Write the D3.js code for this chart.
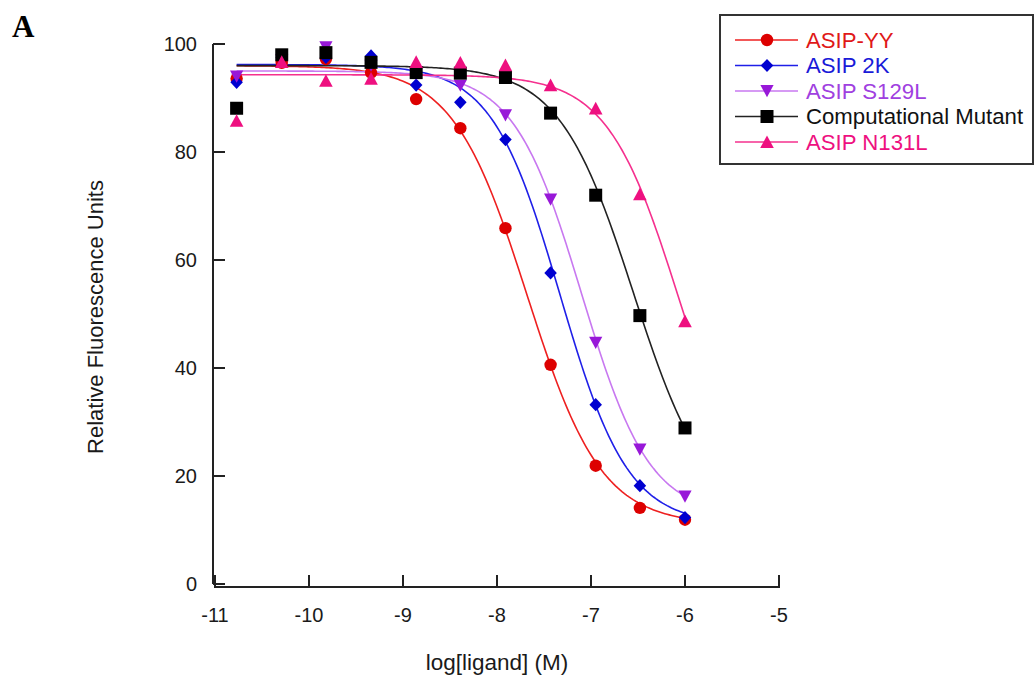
<!DOCTYPE html>
<html>
<head>
<meta charset="utf-8">
<script src="https://cdn.jsdelivr.net/npm/d3@7"></script>
<style>
  html, body { margin: 0; padding: 0; background: #fff; }
  svg { display: block; }
  .sans { font-family: "Liberation Sans", Arial, sans-serif; }
  .serif { font-family: "Liberation Serif", "Times New Roman", serif; }
</style>
</head>
<body>
<svg id="chart" width="1034" height="677"></svg>
<script>
// Concentration-response of the ASIP variants (log molar ligand vs RFU)
const logConc = [-10.77, -10.29, -9.82, -9.34, -8.86, -8.39, -7.91, -7.43, -6.95, -6.48, -6.00];

const seriesNames = ["ASIP-YY", "ASIP 2K", "ASIP S129L", "Computational Mutant", "ASIP N131L"];

const asipYY      = [93.6, 96.5, 97.2, 94.7, 89.8, 84.4, 65.9, 40.6, 21.9, 14.1, 11.9];
const asip2K      = [92.9, 97.5, 97.5, 97.8, 92.4, 89.2, 82.3, 57.6, 33.2, 18.2, 12.3];
const asipS129L   = [94.0, 97.0, 99.4, 96.0, 94.5, 92.3, 86.8, 71.2, 44.7, 24.9, 16.2];
const compMutant  = [88.1, 98.0, 98.4, 96.6, 94.7, 94.6, 93.8, 87.2, 72.0, 49.7, 28.9];
const asipN131L   = [85.8, 96.7, 93.2, 93.6, 96.7, 96.6, 96.1, 92.4, 88.1, 72.2, 48.7];

// Four-parameter logistic fit for each series (same order as seriesNames)
const fitTop     = [96.0, 96.2, 95.0, 96.0, 94.3];
const fitBottom  = [11.0, 11.0, 12.5, 12.0, 12.0];
const fitLogEC50 = [-7.68, -7.33, -7.10, -6.55, -6.07];
const fitHill    = [1.10, 1.20, 1.20, 1.10, 1.15];

const xTicks = [-11, -10, -9, -8, -7, -6, -5];
const yTicks = [0, 20, 40, 60, 80, 100];

const seriesValues = [asipYY, asip2K, asipS129L, compMutant, asipN131L];
const lineColors   = ["#ee2020", "#1f1fe8", "#c878f0", "#222222", "#f5308e"];
const markColors   = ["#dd0000", "#0000d0", "#9818d8", "#000000", "#ee1080"];
const textColors   = ["#e01818", "#1a1ad8", "#a040e0", "#111111", "#ee1080"];

// marker shapes
const circleShape = { draw(ctx, r) { ctx.moveTo(r, 0); ctx.arc(0, 0, r, 0, 2 * Math.PI); ctx.closePath(); } };
const diamondShape = { draw(ctx, r) { ctx.moveTo(0, -r); ctx.lineTo(r * 0.95, 0); ctx.lineTo(0, r); ctx.lineTo(-r * 0.95, 0); ctx.closePath(); } };
const downTriShape = { draw(ctx, r) { ctx.moveTo(-r, -r * 0.9); ctx.lineTo(r, -r * 0.9); ctx.lineTo(0, r * 0.95); ctx.closePath(); } };
const squareShape = { draw(ctx, r) { ctx.rect(-r, -r, 2 * r, 2 * r); } };
const upTriShape = { draw(ctx, r) { ctx.moveTo(-r, r * 0.9); ctx.lineTo(r, r * 0.9); ctx.lineTo(0, -r * 0.95); ctx.closePath(); } };
const shapes = [circleShape, diamondShape, downTriShape, squareShape, upTriShape];
const shapeSizes = [6.2, 6.6, 6.6, 6.5, 6.8];

const svg = d3.select("#chart");

const x = d3.scaleLinear().domain([-11, -5]).range([215, 779]);
const y = d3.scaleLinear().domain([0, 100]).range([584, 44]);

const axisColor = "#222";

// y axis (ticks point into the plot)
const yAxis = svg.append("g").attr("transform", "translate(213,0)");
yAxis.append("line").attr("x1", 0).attr("x2", 0).attr("y1", y(100)).attr("y2", y(0))
  .attr("stroke", axisColor).attr("stroke-width", 2);
yAxis.selectAll("line.tick").data(yTicks).join("line").attr("class", "tick")
  .attr("x1", 0).attr("x2", 12).attr("y1", d => y(d)).attr("y2", d => y(d))
  .attr("stroke", axisColor).attr("stroke-width", 2);
yAxis.selectAll("text").data(yTicks).join("text").attr("class", "sans")
  .attr("x", -16).attr("y", d => y(d)).attr("dy", "0.35em")
  .attr("text-anchor", "end").attr("font-size", 20).attr("fill", "#1a1a1a")
  .text(d => d);

// x axis, offset slightly below the y origin
const xAxis = svg.append("g").attr("transform", "translate(0,587)");
xAxis.append("line").attr("x1", x(-11) - 1).attr("x2", x(-5) + 1).attr("y1", 0).attr("y2", 0)
  .attr("stroke", axisColor).attr("stroke-width", 2);
xAxis.selectAll("line.tick").data(xTicks).join("line").attr("class", "tick")
  .attr("x1", d => x(d)).attr("x2", d => x(d)).attr("y1", 0).attr("y2", -12)
  .attr("stroke", axisColor).attr("stroke-width", 2);
xAxis.selectAll("text").data(xTicks).join("text").attr("class", "sans")
  .attr("x", d => x(d)).attr("y", 35)
  .attr("text-anchor", "middle").attr("font-size", 20).attr("fill", "#1a1a1a")
  .text(d => d);

// axis titles
svg.append("text").attr("class", "sans").attr("x", 497).attr("y", 670).attr("text-anchor", "middle")
  .attr("font-size", 22.5).attr("fill", "#1a1a1a").text("log[ligand] (M)");
svg.append("text").attr("class", "sans").attr("transform", "translate(103,317) rotate(-90)")
  .attr("text-anchor", "middle").attr("font-size", 22).attr("fill", "#1a1a1a")
  .text("Relative Fluorescence Units");

// panel letter
svg.append("text").attr("class", "serif").attr("x", 12).attr("y", 37)
  .attr("font-weight", "bold").attr("font-size", 31).attr("fill", "#000").text("A");

// fitted curves
const logistic = i => v => fitBottom[i] + (fitTop[i] - fitBottom[i]) / (1 + Math.pow(10, (v - fitLogEC50[i]) * fitHill[i]));
const lineGen = d3.line().x(d => x(d[0])).y(d => y(d[1])).curve(d3.curveLinear);
const plot = svg.append("g");

seriesValues.forEach((vals, i) => {
  const f = logistic(i);
  const xs = d3.range(0, 201).map(k => logConc[0] + (logConc[logConc.length - 1] - logConc[0]) * k / 200);
  plot.append("path")
    .attr("d", lineGen(xs.map(v => [v, f(v)])))
    .attr("fill", "none").attr("stroke", lineColors[i]).attr("stroke-width", 1.6);
});

// data markers
seriesValues.forEach((vals, i) => {
  const sym = d3.symbol().type(shapes[i]).size(shapeSizes[i]);
  plot.append("g").selectAll("path").data(vals).join("path")
    .attr("transform", (d, k) => `translate(${x(logConc[k])},${y(d)})`)
    .attr("d", sym)
    .attr("fill", markColors[i]);
});

// legend
const legend = svg.append("g");
legend.append("rect").attr("x", 720).attr("y", 15).attr("width", 313).attr("height", 149)
  .attr("fill", "#fff").attr("stroke", "#333").attr("stroke-width", 2);
const rowY = d3.scaleLinear().domain([0, 4]).range([40, 142]);
seriesNames.forEach((name, i) => {
  const ry = rowY(i);
  legend.append("line").attr("x1", 735).attr("x2", 798).attr("y1", ry).attr("y2", ry)
    .attr("stroke", lineColors[i]).attr("stroke-width", 1.6);
  legend.append("path").attr("transform", `translate(767,${ry})`)
    .attr("d", d3.symbol().type(shapes[i]).size(shapeSizes[i])())
    .attr("fill", markColors[i]);
  legend.append("text").attr("class", "sans").attr("x", 806).attr("y", ry).attr("dy", "0.36em")
    .attr("font-size", 22.2).attr("fill", textColors[i]).text(name);
});
</script>
</body>
</html>
